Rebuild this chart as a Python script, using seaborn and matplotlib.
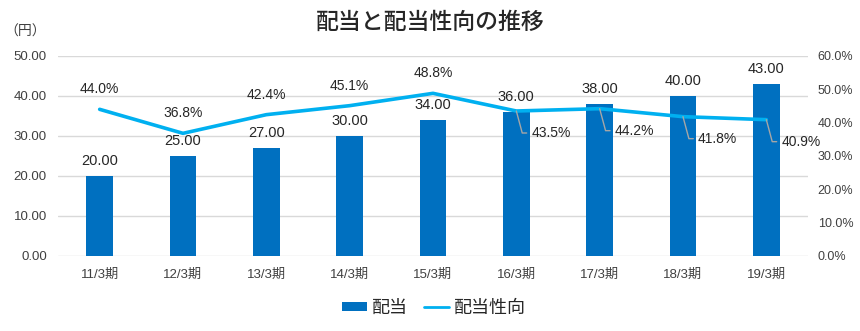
import numpy as np
import pandas as pd
import matplotlib
matplotlib.use("Agg")
import matplotlib.pyplot as plt
import seaborn as sns
from matplotlib.ticker import FuncFormatter, MultipleLocator
from matplotlib.patches import Patch
from matplotlib.lines import Line2D

# Fiscal periods, dividend per share (yen) and payout ratio (%)
periods = ["11/3期", "12/3期", "13/3期", "14/3期", "15/3期",
           "16/3期", "17/3期", "18/3期", "19/3期"]
dividend = [20.00, 25.00, 27.00, 30.00, 34.00, 36.00, 38.00, 40.00, 43.00]
payout = [44.0, 36.8, 42.4, 45.1, 48.8, 43.5, 44.2, 41.8, 40.9]
# payout labels drawn beside the point with a leader line (True) or above it
payout_side_label = [False, False, False, False, False, True, True, True, True]

sns.set_theme(style="white")
plt.rcParams["font.family"] = ["Liberation Sans", "Noto Sans CJK JP"]

BAR_COLOR = "#0070C0"
LINE_COLOR = "#00B0F0"
TEXT_COLOR = "#262626"
TICK_COLOR = "#404040"
GRID_COLOR = "#D9D9D9"

df = pd.DataFrame({"period": periods, "dividend": dividend, "payout": payout})

fig = plt.figure(figsize=(8.6, 3.31), dpi=100)
ax = fig.add_axes([58 / 860, 1 - 256 / 331, 750 / 860, 200 / 331])

sns.barplot(data=df, x="period", y="dividend", color=BAR_COLOR, width=0.32,
            saturation=1, linewidth=0, ax=ax, zorder=2)
ax.bar_label(ax.containers[0], fmt="%.2f", padding=6, fontsize=10.5,
             color=TEXT_COLOR)

ax.set_ylim(0, 50)
ax.yaxis.set_major_locator(MultipleLocator(10))
ax.yaxis.set_major_formatter(FuncFormatter(lambda v, _: f"{v:.2f}"))
ax.set_xlim(-0.5, len(periods) - 0.5)
ax.yaxis.grid(True, color=GRID_COLOR, linewidth=1)
ax.set_axisbelow(True)
ax.set_xlabel("")
ax.set_ylabel("")

ax2 = ax.twinx()
sns.lineplot(x=np.arange(len(periods)), y=df["payout"], ax=ax2,
             color=LINE_COLOR, linewidth=2.6)
ax2.set_ylim(0, 60)
ax2.yaxis.set_major_locator(MultipleLocator(10))
ax2.yaxis.set_major_formatter(FuncFormatter(lambda v, _: f"{v:.1f}%"))
ax2.grid(False)
ax2.set_ylabel("")

for i, (v, side) in enumerate(zip(payout, payout_side_label)):
    if side:
        ax2.annotate(f"{v:.1f}%", xy=(i, v), xytext=(15, -22),
                     textcoords="offset pixels", ha="left", va="center",
                     fontsize=10, color=TEXT_COLOR,
                     arrowprops=dict(arrowstyle="-", color="#A6A6A6", lw=1,
                                     connectionstyle="angle,angleA=0,angleB=-75,rad=0",
                                     shrinkA=1, shrinkB=0, relpos=(0, 0.5)))
    else:
        ax2.annotate(f"{v:.1f}%", xy=(i, v), xytext=(0, 20),
                     textcoords="offset pixels", ha="center", va="center",
                     fontsize=10, color=TEXT_COLOR)

ax.set_xticks(range(len(periods)))
ax.set_xticklabels(periods)
for a in (ax, ax2):
    for s in a.spines.values():
        s.set_visible(False)
ax.tick_params(axis="y", length=0, pad=8, labelsize=9.5, labelcolor=TICK_COLOR)
ax.tick_params(axis="x", length=0, pad=9, labelsize=9.5, labelcolor=TICK_COLOR)
ax2.tick_params(axis="y", length=0, pad=7, labelsize=9, labelcolor=TICK_COLOR)

fig.text(0.5, 1 - 22 / 331, "配当と配当性向の推移", ha="center", va="center",
         fontsize=16.5, color=TEXT_COLOR, fontweight="medium",
         family=["Noto Sans CJK JP"])
fig.text(4 / 860, 1 - 32 / 331, "（円）", ha="left", va="center",
         fontsize=10, color=TICK_COLOR, family=["Noto Sans CJK JP"])

handles = [Patch(facecolor=BAR_COLOR, edgecolor="none"),
           Line2D([0], [0], color=LINE_COLOR, linewidth=2)]
fig.legend(handles, ["配当", "配当性向"], loc="center",
           bbox_to_anchor=(434 / 860, 1 - 308 / 331), ncol=2, frameon=False,
           prop={"family": "Noto Sans CJK JP", "size": 13},
           handlelength=1.4, handleheight=0.45, handletextpad=0.25,
           columnspacing=0.9, labelcolor=TEXT_COLOR)

fig.savefig("out.png", dpi=100)
